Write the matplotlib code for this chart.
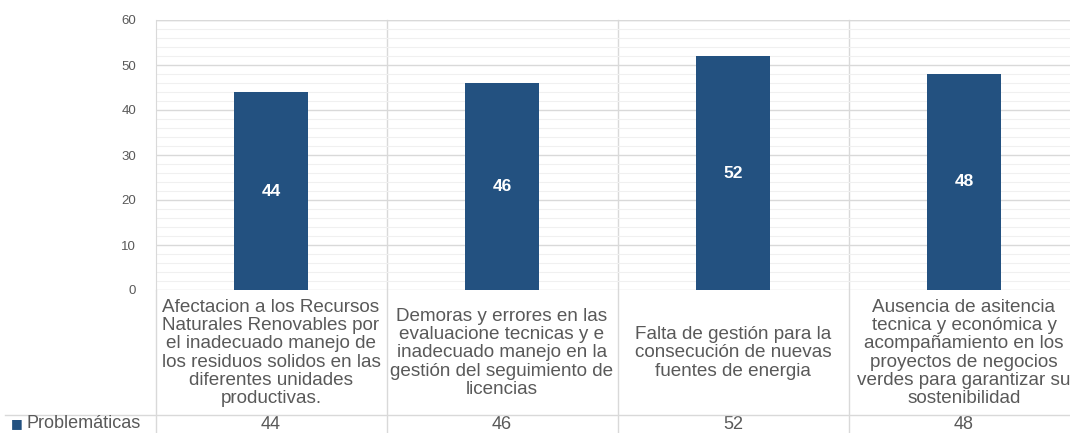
import matplotlib
matplotlib.use("Agg")
import matplotlib.pyplot as plt
import matplotlib.transforms as mtransforms

# Data
categorias = [
    "Afectacion a los Recursos\nNaturales Renovables por\nel inadecuado manejo de\nlos residuos solidos en las\ndiferentes unidades\nproductivas.",
    "Demoras y errores en las\nevaluacione tecnicas y e\ninadecuado manejo en la\ngestión del seguimiento de\nlicencias",
    "Falta de gestión para la\nconsecución de nuevas\nfuentes de energia",
    "Ausencia de asitencia\ntecnica y económica y\nacompañamiento en los\nproyectos de negocios\nverdes para garantizar su\nsostenibilidad",
]
valores = [44, 46, 52, 48]
serie = "Problemáticas"
y_ticks = [0, 10, 20, 30, 40, 50, 60]

bar_color = "#235180"
text_gray = "#595959"
line_gray = "#d9d9d9"

plt.rcParams["font.family"] = ["Liberation Sans", "DejaVu Sans"]

fig = plt.figure(figsize=(10.70, 4.33), dpi=100)
# axes extends past the right edge like the cropped original
ax = fig.add_axes([155.5 / 1070, 143 / 433, 924 / 1070, 270 / 433])

x = list(range(len(valores)))
bars = ax.bar(x, valores, width=0.32, color=bar_color, zorder=3)

# labels inside bars
for xi, v in zip(x, valores):
    ax.text(xi, v / 2, str(v), ha="center", va="center", color="white",
            fontsize=12.5, fontweight="bold", zorder=4)

ax.set_xlim(-0.5, len(valores) - 0.5)
ax.set_ylim(0, 60)
ax.set_yticks(y_ticks)
ax.set_yticks(range(0, 61, 2), minor=True)
ax.set_xticks([])
ax.tick_params(axis="y", which="both", length=0, pad=14, labelsize=9.5, labelcolor=text_gray)

ax.grid(True, which="major", axis="y", color=line_gray, linewidth=1.0, zorder=0)
ax.grid(True, which="minor", axis="y", color="#f0f0f0", linewidth=0.8, zorder=0)
for s in ["top", "right", "bottom"]:
    ax.spines[s].set_visible(False)
ax.spines["left"].set_color(line_gray)
ax.axhline(60, color=line_gray, linewidth=1.0, zorder=1)

trans = mtransforms.blended_transform_factory(ax.transData, ax.transAxes)
bottom = -0.53

# vertical category separators running through the data table
for i in range(len(valores) - 1):
    ax.plot([i + 0.5, i + 0.5], [1, bottom], transform=trans, color=line_gray,
            linewidth=1.0, clip_on=False, zorder=1)
ax.plot([-0.5, -0.5], [0, bottom], transform=trans, color=line_gray,
        linewidth=1.0, clip_on=False)

# horizontal line between label row and value row (also under the header cell)
fig.add_artist(plt.Line2D([5 / 1070, 1], [(433 - 415) / 433] * 2,
                          color=line_gray, linewidth=1.0))

# category labels and values in the table
for xi, cat, v in zip(x, categorias, valores):
    ax.text(xi, -0.233, cat, transform=trans, ha="center", va="center",
            fontsize=13.6, color=text_gray, linespacing=1.1, clip_on=False)
    ax.text(xi, -0.497, str(v), transform=trans, ha="center", va="center",
            fontsize=13, color=text_gray, clip_on=False)

# series header cell
fig.text(11 / 1070, (433 - 424) / 433, "\u25a0", color=bar_color, fontsize=9,
         ha="left", va="center", family=["DejaVu Sans"])
fig.text(26 / 1070, (433 - 424) / 433, serie, color=text_gray, fontsize=13,
         ha="left", va="center")

fig.savefig("out.png", dpi=100)
